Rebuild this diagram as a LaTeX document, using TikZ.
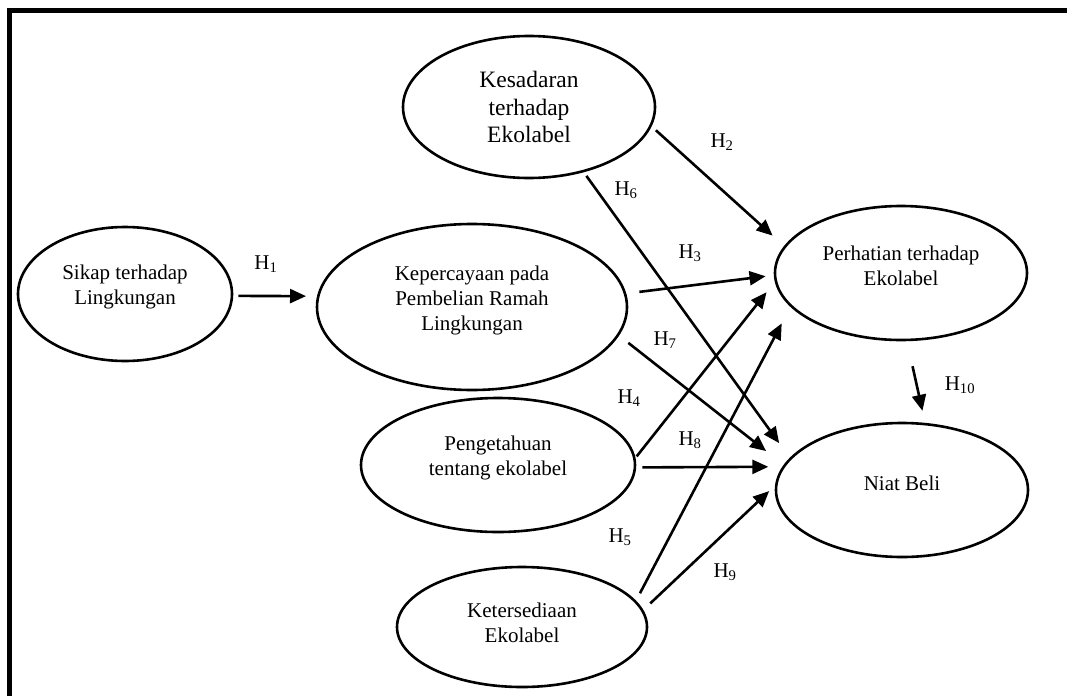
\documentclass[tikz,border=0pt]{standalone}
\usepackage{fontspec}
\setmainfont{Liberation Serif}
\usetikzlibrary{positioning}
\usetikzlibrary{arrows.meta}
\usetikzlibrary{shapes.geometric}

\tikzset{
  konstruk/.style={draw,ellipse,line width=2.6pt,inner sep=0pt,align=center,
    font=\fontsize{21}{25}\selectfont},
  jalur/.style={line width=2.6pt,-{Triangle[length=16pt,width=14pt]}},
  hipo/.style={font=\fontsize{21}{25}\selectfont,inner sep=0pt}
}

\begin{document}
\begin{tikzpicture}[x=1pt,y=-1pt]

  \useasboundingbox (0,0) rectangle (1067,696);
  \draw[line width=5pt] (9.5,696) -- (9.5,10.5) -- (1067,10.5);

  \node[konstruk,minimum width=252pt,minimum height=142pt,text depth=0pt,
    font=\fontsize{23.5}{27.5}\selectfont] (kesadaran) at (529,107)
    {Kesadaran\\terhadap\\Ekolabel};
  \node[konstruk,minimum width=214pt,minimum height=134pt,text depth=17.9pt]
    (sikap) at (125,294) {Sikap terhadap\\Lingkungan};
  \node[konstruk,minimum width=310pt,minimum height=166pt,text depth=16.9pt]
    (kepercayaan) at (472,307) {Kepercayaan pada\\Pembelian Ramah\\Lingkungan};
  \node[konstruk,minimum width=274pt,minimum height=134pt,text depth=18.9pt]
    (pengetahuan) at (498,465) {Pengetahuan\\tentang ekolabel};
  \node[konstruk,minimum width=250pt,minimum height=120pt,text depth=7.9pt]
    (ketersediaan) at (522,627) {Ketersediaan\\Ekolabel};
  \node[konstruk,minimum width=252pt,minimum height=134pt,text depth=14.9pt]
    (perhatian) at (901,273) {Perhatian terhadap\\Ekolabel};
  \node[konstruk,minimum width=252pt,minimum height=134pt,text depth=12.9pt]
    (niat) at (902,490) {Niat Beli};

  \draw[jalur,shorten <=5pt,shorten >=11pt] (sikap.-1.6) -- (kepercayaan.176.3);
  \draw[jalur,shorten <=5.7pt,shorten >=15.5pt] (kesadaran.-9.5) -- (perhatian.167.6);
  \draw[jalur,shorten <=13.2pt,shorten >=8.3pt] (kepercayaan.5.1) -- (perhatian.181.9);
  \draw[jalur,shorten <=1.8pt,shorten >=13.2pt] (pengetahuan.3.6) -- (perhatian.184.5);
  \draw[jalur,shorten <=8.4pt,shorten >=18.7pt] (ketersediaan.13.4) -- (perhatian.197.1);
  \draw[jalur,shorten <=4.5pt,shorten >=18.1pt] (kesadaran.-50.3) -- (niat.164.3);
  \draw[jalur,shorten <=11.8pt,shorten >=22.3pt] (kepercayaan.-11.65) -- (niat.168.2);
  \draw[jalur,shorten <=6.1pt,shorten >=14pt] (pengetahuan.-1.3) -- (niat.169.5);
  \draw[jalur,shorten <=9.6pt,shorten >=8pt] (ketersediaan.8.9) -- (niat.178.9);
  \draw[jalur,shorten <=25.6pt,shorten >=12.3pt] (perhatian.-85.2) -- (niat.71.1);

  \node[hipo] (h1) at (266,264) {H\textsubscript{1}};
  \node[hipo] (h2) at (722,142) {H\textsubscript{2}};
  \node[hipo] (h3) at (690,253) {H\textsubscript{3}};
  \node[hipo] (h4) at (629,398) {H\textsubscript{4}};
  \node[hipo] (h5) at (620,537) {H\textsubscript{5}};
  \node[hipo] (h6) at (626,190) {H\textsubscript{6}};
  \node[hipo] (h7) at (665,340) {H\textsubscript{7}};
  \node[hipo] (h8) at (690,440) {H\textsubscript{8}};
  \node[hipo] (h9) at (725,572) {H\textsubscript{9}};
  \node[hipo] (h10) at (960,385) {H\textsubscript{10}};

\end{tikzpicture}
\end{document}
